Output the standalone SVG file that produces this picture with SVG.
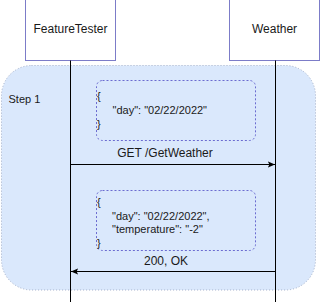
<svg xmlns="http://www.w3.org/2000/svg" width="320" height="302" viewBox="0 0 320 302">
  <defs>
    <style>
      .actor { fill: #ffffff; stroke: #7c7cc8; stroke-width: 1; }
      .label { font-family: "Liberation Sans", Arial, Helvetica, sans-serif; font-size: 12px; fill: #1a1a1a; }
      .json { font-family: "Liberation Sans", Arial, Helvetica, sans-serif; font-size: 11px; fill: #1a1a1a; }
      .note { fill: none; stroke: #6b6bd0; stroke-width: 1; stroke-dasharray: 2 2; }
      .lifeline { stroke: #000000; stroke-width: 1; fill: none; }
      .msg { stroke: #000000; stroke-width: 1; fill: none; }
    </style>
    <marker id="arrow" viewBox="0 0 10 10" refX="9" refY="5" markerWidth="8" markerHeight="8" markerUnits="userSpaceOnUse" orient="auto">
      <path d="M0,1 L9,5 L0,9 L2,5 Z" fill="#000000"/>
    </marker>
  </defs>

  <!-- step frame -->
  <g id="step1">
    <rect x="1.5" y="65.5" width="314" height="224.5" rx="30" ry="30" fill="#dae8fc" stroke="#a3afc9" stroke-width="1" stroke-dasharray="1 2"/>
    <text class="json" x="8.5" y="102.5">Step 1</text>
  </g>

  <!-- participants -->
  <g id="feature-tester">
    <rect class="actor" x="25.5" y="-0.5" width="90" height="61"/>
    <text class="label" x="70.5" y="32.5" text-anchor="middle">FeatureTester</text>
  </g>
  <g id="weather">
    <rect class="actor" x="229.5" y="-0.5" width="90" height="61"/>
    <text class="label" x="274.5" y="32.5" text-anchor="middle">Weather</text>
  </g>

  <!-- request payload -->
  <g id="request-note">
    <rect class="note" x="96.5" y="80.5" width="159" height="60" rx="6" ry="6"/>
    <text class="json" x="97" y="100">{</text>
    <text class="json" x="112.5" y="113.5">"day": "02/22/2022"</text>
    <text class="json" x="97" y="127.5">}</text>
  </g>

  <!-- response payload -->
  <g id="response-note">
    <rect class="note" x="96.5" y="190.5" width="159" height="60" rx="6" ry="6"/>
    <text class="json" x="97" y="206">{</text>
    <text class="json" x="112" y="219.5">"day": "02/22/2022",</text>
    <text class="json" x="112" y="233">"temperature": "-2"</text>
    <text class="json" x="97" y="246.5">}</text>
  </g>

  <!-- lifelines and messages -->
  <g id="connectors">
    <line class="lifeline" x1="70.5" y1="60.5" x2="70.5" y2="302"/>
    <line class="lifeline" x1="275.5" y1="60.5" x2="275.5" y2="302"/>
    <line class="msg" x1="70.5" y1="164.5" x2="275" y2="164.5" marker-end="url(#arrow)"/>
    <text class="label" x="165" y="157" text-anchor="middle">GET /GetWeather</text>
    <line class="msg" x1="275.5" y1="271.5" x2="71" y2="271.5" marker-end="url(#arrow)"/>
    <text class="label" x="166" y="265" text-anchor="middle">200, OK</text>
  </g>
</svg>
